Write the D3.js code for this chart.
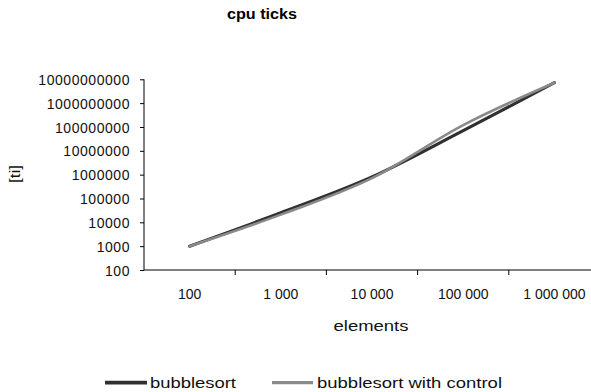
<!DOCTYPE html>
<html>
<head>
<meta charset="utf-8">
<script src="https://cdn.jsdelivr.net/npm/d3@7"></script>
<style>
  html, body { margin: 0; padding: 0; background: #fff; }
  svg { display: block; font-family: "Liberation Sans", Arial, sans-serif; }
</style>
</head>
<body>
<div id="chart"></div>
<script>
// ---- data ----
const categories = ["100", "1 000", "10 000", "100 000", "1 000 000"];
const bubblesort = [1000, 25000, 800000, 70000000, 7200000000];
const bubblesortWithControl = [1000, 21000, 720000, 120000000, 7200000000];
const yTickValues = [1e2, 1e3, 1e4, 1e5, 1e6, 1e7, 1e8, 1e9, 1e10];
const yTickLabels = ["100", "1000", "10000", "100000", "1000000", "10000000", "100000000", "1000000000", "10000000000"];
const seriesNames = ["bubblesort", "bubblesort with control"];
const titleText = "cpu ticks";
const xTitle = "elements";
const yTitle = "[ti]";

// ---- layout ----
const W = 591, H = 392;
const mLeft = 144, mRight = 600, mTop = 79.3, mBottom = 270;

const svg = d3.select("#chart").append("svg")
  .attr("width", W).attr("height", H);

const x = d3.scaleBand().domain(categories).range([mLeft, mRight]).paddingInner(0).paddingOuter(0);
const y = d3.scaleLog().domain([1e2, 1e10]).range([mBottom, mTop]);

// title
svg.append("text")
  .attr("x", 262).attr("y", 18.5)
  .attr("text-anchor", "middle")
  .attr("font-weight", "bold").attr("font-size", 14)
  .attr("textLength", 70).attr("lengthAdjust", "spacingAndGlyphs")
  .text(titleText);

// y axis
const yAxis = d3.axisLeft(y).tickValues(yTickValues)
  .tickFormat((d, i) => yTickLabels[i]).tickSize(4).tickPadding(10);
const gy = svg.append("g").attr("transform", `translate(${mLeft},0)`).call(yAxis);
gy.select(".domain").attr("d", `M-0,${mTop}V${mBottom}`).attr("stroke", "#000");
gy.selectAll(".tick line").attr("stroke", "#000");
gy.selectAll(".tick text")
  .attr("font-family", "'Liberation Sans', Arial, sans-serif")
  .attr("font-size", 14).attr("fill", "#111")
  .attr("letter-spacing", "0.55px").attr("dy", "0.36em");

// x axis
const xAxis = d3.axisBottom(x).tickSize(0).tickPadding(19);
const gx = svg.append("g").attr("transform", `translate(0,${mBottom})`).call(xAxis);
gx.select(".domain").attr("d", `M${mLeft},0H${mRight}`).attr("stroke", "#000");
gx.selectAll(".tick text")
  .attr("font-family", "'Liberation Sans', Arial, sans-serif")
  .attr("font-size", 14).attr("fill", "#111");
// category boundary tick marks
gx.selectAll(".bound").data(categories.slice(1))
  .enter().append("line").attr("class", "bound")
  .attr("x1", d => x(d)).attr("x2", d => x(d))
  .attr("y1", 0).attr("y2", 5).attr("stroke", "#000");

// axis titles
svg.append("text")
  .attr("x", 371).attr("y", 331)
  .attr("text-anchor", "middle").attr("font-size", 14).attr("fill", "#111")
  .attr("textLength", 75).attr("lengthAdjust", "spacingAndGlyphs")
  .text(xTitle);
svg.append("text")
  .attr("transform", "translate(20,174) rotate(-90)")
  .attr("text-anchor", "middle").attr("font-size", 14).attr("fill", "#111")
  .attr("textLength", 18).attr("lengthAdjust", "spacingAndGlyphs")
  .text(yTitle);

// lines
const line = d3.line()
  .x((d, i) => x(categories[i]) + x.bandwidth() / 2)
  .y(d => y(d))
  .curve(d3.curveCatmullRom.alpha(0.5));

const series = [
  { name: seriesNames[0], values: bubblesort, color: "#303030", width: 3.2 },
  { name: seriesNames[1], values: bubblesortWithControl, color: "#8a8a8a", width: 2.6 }
];

svg.selectAll(".series").data(series).enter().append("path")
  .attr("class", "series")
  .attr("d", d => line(d.values))
  .attr("fill", "none")
  .attr("stroke", d => d.color)
  .attr("stroke-width", d => d.width)
  .attr("stroke-linecap", "round");

// legend
const legendItems = [
  { x1: 105, x2: 147, tx: 150, tl: 86 },
  { x1: 272, x2: 313, tx: 317, tl: 185 }
];
const lg = svg.selectAll(".legend").data(series).enter().append("g").attr("class", "legend");
lg.append("line")
  .attr("x1", (d, i) => legendItems[i].x1).attr("x2", (d, i) => legendItems[i].x2)
  .attr("y1", 382.7).attr("y2", 382.7)
  .attr("stroke", d => d.color).attr("stroke-width", d => d.width + 0.6);
lg.append("text")
  .attr("x", (d, i) => legendItems[i].tx).attr("y", 388)
  .attr("font-size", 14).attr("fill", "#111")
  .attr("textLength", (d, i) => legendItems[i].tl).attr("lengthAdjust", "spacingAndGlyphs")
  .text(d => d.name);
</script>
</body>
</html>
